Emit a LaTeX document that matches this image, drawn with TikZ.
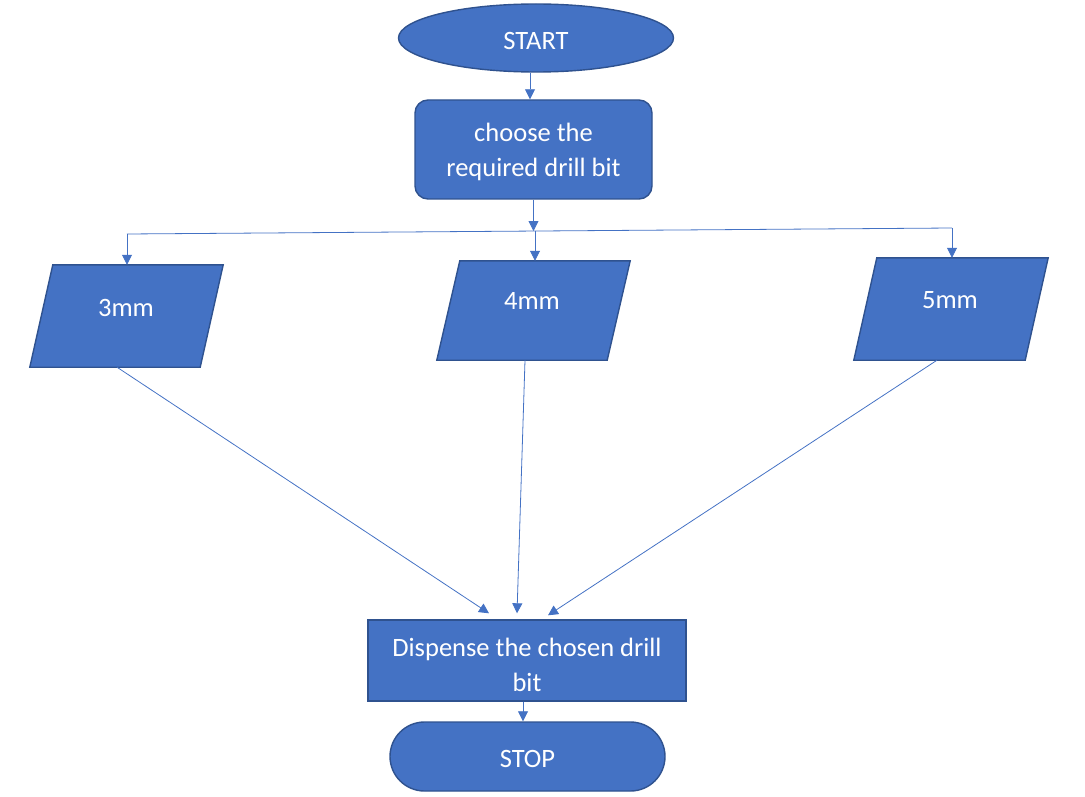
\documentclass[tikz,border=0pt]{standalone}
\usepackage{fontspec}
\setmainfont{Carlito}
\usetikzlibrary{shapes.geometric,shapes.misc,arrows.meta,calc}
\definecolor{fillblue}{HTML}{4472C4}
\definecolor{edgeblue}{HTML}{2F528F}
\newcommand{\lowertext}[2]{\raisebox{-#1}[\height][\depth]{#2}}
\begin{document}
\begin{tikzpicture}[x=1pt,y=-1pt,
  shp/.style={draw=edgeblue,fill=fillblue,line width=1.4pt,text=white,
    font=\fontsize{26.5}{35}\selectfont,inner sep=0pt,align=center},
  paratext/.style={rectangle,text=white,font=\fontsize{26.5}{35}\selectfont,inner sep=0pt},
  paraline/.style={draw=edgeblue,fill=fillblue,line width=1.4pt},
  arr/.style={draw=fillblue,line width=0.8pt,-{Triangle[width=10pt,length=10pt]}},
  ln/.style={draw=fillblue,line width=0.8pt}]
\useasboundingbox (0,0) rectangle (1085,797);
\node[shp,ellipse,minimum width=275,minimum height=68] (start) at (536,38) {\lowertext{3pt}{START}};
\node[shp,rectangle,rounded corners=13pt,minimum width=237,minimum height=99] (choose) at (533.5,149.5) {\lowertext{2.5pt}{\parbox{230pt}{\centering choose the\\required drill bit}}};
% parallelograms: invisible nodes spanning the bounding box, outline drawn from their corners
\node[paratext,minimum width=193,minimum height=102] (p3) at (126.5,316) {};
\node[paratext,minimum width=193,minimum height=99] (p4) at (533.5,310.5) {};
\node[paratext,minimum width=194,minimum height=102] (p5) at (951,309) {};
\foreach \p in {p3,p4,p5}{
  \draw[paraline] ([xshift=23pt]\p.north west) -- (\p.north east)
    -- ([xshift=-23pt]\p.south east) -- (\p.south west) -- cycle;
}
\node[paratext] (t3) at (126,308) {3mm};
\node[paratext] (t4) at (532,301) {4mm};
\node[paratext] (t5) at (950,300) {5mm};
\node[shp,rectangle,minimum width=318,minimum height=81] (disp) at (527,660.5) {\lowertext{4pt}{\parbox{310pt}{\centering Dispense the chosen drill\\bit}}};
\node[shp,rounded rectangle,minimum width=275,minimum height=69] (stop) at (527.5,756.5) {\lowertext{2pt}{STOP}};
\coordinate (bl) at (127,234);
\coordinate (bm) at (535,231);
\coordinate (br) at (952,228);
\draw[arr] ([xshift=-6pt]start.south) -- ([xshift=-3.5pt]choose.north);
\draw[arr] (choose.south) -- (choose.south |- bm);
\draw[ln] (bl) -- (br);
\draw[arr] (bl) -- (bl |- p3.north);
\draw[arr] (bm) -- (bm |- p4.north);
\draw[arr] (br) -- (br |- p5.north);
\draw[arr] ([xshift=-9.5pt]p3.south) -- ([xshift=-38pt,yshift=6pt]disp.north);
\draw[arr] ([xshift=-8.5pt]p4.south) -- ([xshift=-10pt,yshift=6pt]disp.north);
\draw[arr] ([xshift=-14pt]p5.south) -- ([xshift=21pt,yshift=4pt]disp.north);
\draw[arr] ([xshift=-4pt]disp.south) -- ([xshift=-4.5pt]stop.north);
\end{tikzpicture}
\end{document}
